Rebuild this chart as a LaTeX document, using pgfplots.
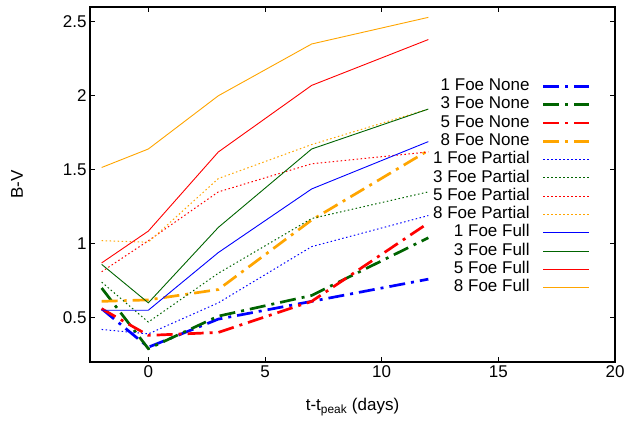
\documentclass[border=0pt]{standalone}
\usepackage{fontspec}
\setmainfont{Liberation Sans}
\usepackage{pgfplots}
\pgfplotsset{compat=1.18}
\definecolor{dgreen}{RGB}{0,100,0}
\definecolor{gorange}{RGB}{255,165,0}
\begin{document}
\begin{tikzpicture}[font=\fontsize{17}{20}\selectfont]
\begin{axis}[name=ax, scale only axis, width=525pt, height=355pt,
  xmin=-2.5, xmax=20, ymin=0.2, ymax=2.6,
  xtick={0,5,10,15,20}, ytick={0.5,1,1.5,2,2.5},
  tick align=inside, major tick length=5pt,
  axis line style={line width=1.5pt},
  tick style={black, line width=0.6pt},
  /pgf/number format/assume math mode=true,
  xlabel={t-t\textsubscript{peak} (days)}, ylabel={B-V},
  xlabel style={at={(axis description cs:0.5,-0.1268)}, anchor=center},
  ylabel style={at={(axis description cs:-0.139,0.5)}, anchor=center},
  legend plot pos=right,
  legend cell align=right,
  legend image code/.code={\draw[#1] (0pt,0pt) -- (46pt,0pt);},
  legend style={draw=none, fill=none, inner sep=0pt, column sep=11pt,
    at={(rel axis cs:0.954,0.803)}, anchor=north east,
    nodes={inner sep=1.4pt, text height=12pt, text depth=3.5pt}},
  none/.style={line width=2.7pt, dash pattern=on 16pt off 6pt on 3pt off 6pt},
  partial/.style={line width=1pt, dash pattern=on 1.5pt off 2.5pt},
  full/.style={line width=0.9pt},
]
\addplot[none, blue] coordinates {(-2,0.56) (0,0.30) (3,0.49) (7,0.61) (12,0.76)};
\addlegendentry{1 Foe None}
\addplot[none, dgreen] coordinates {(-2,0.70) (0,0.29) (3,0.51) (7,0.65) (12,1.04)};
\addlegendentry{3 Foe None}
\addplot[none, red] coordinates {(-2,0.56) (0,0.38) (3,0.40) (7,0.61) (12,1.14)};
\addlegendentry{5 Foe None}
\addplot[none, gorange] coordinates {(-2,0.61) (0,0.62) (3,0.69) (7,1.16) (12,1.63)};
\addlegendentry{8 Foe None}
\addplot[partial, blue] coordinates {(-2,0.42) (0,0.39) (3,0.60) (7,0.98) (12,1.19)};
\addlegendentry{1 Foe Partial}
\addplot[partial, dgreen] coordinates {(-2,0.74) (0,0.47) (3,0.80) (7,1.17) (12,1.35)};
\addlegendentry{3 Foe Partial}
\addplot[partial, red] coordinates {(-2,0.81) (0,1.02) (3,1.35) (7,1.54) (12,1.62)};
\addlegendentry{5 Foe Partial}
\addplot[partial, gorange] coordinates {(-2,1.02) (0,1.01) (3,1.44) (7,1.67) (12,1.91)};
\addlegendentry{8 Foe Partial}
\addplot[full, blue] coordinates {(-2,0.55) (0,0.55) (3,0.94) (7,1.37) (12,1.69)};
\addlegendentry{1 Foe Full}
\addplot[full, dgreen] coordinates {(-2,0.86) (0,0.60) (3,1.11) (7,1.64) (12,1.91)};
\addlegendentry{3 Foe Full}
\addplot[full, red] coordinates {(-2,0.87) (0,1.085) (3,1.62) (7,2.07) (12,2.38)};
\addlegendentry{5 Foe Full}
\addplot[full, gorange] coordinates {(-2,1.515) (0,1.64) (3,2.00) (7,2.35) (12,2.53)};
\addlegendentry{8 Foe Full}
\end{axis}
\pgfresetboundingbox
\path[use as bounding box] ([shift={(-90pt,-58pt)}]ax.south west) rectangle ([shift={(13pt,7pt)}]ax.north east);
\end{tikzpicture}
\end{document}
